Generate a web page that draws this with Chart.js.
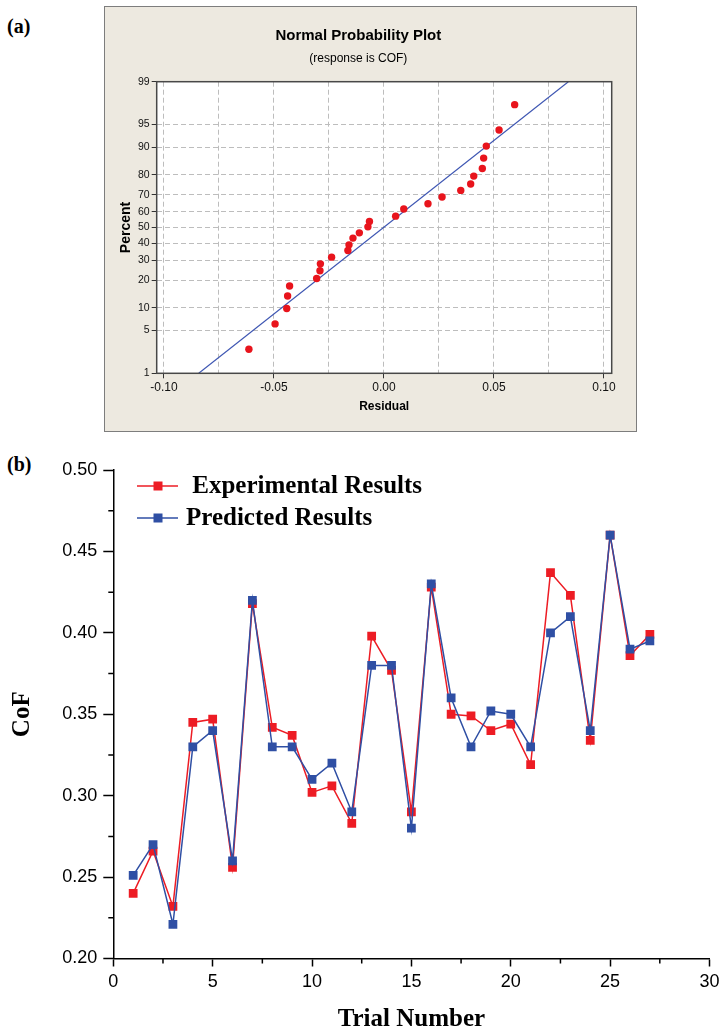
<!DOCTYPE html>
<html><head><meta charset="utf-8">
<script src="https://cdn.jsdelivr.net/npm/chart.js@4.4.1/dist/chart.umd.min.js"></script>
<style>
html,body{margin:0;padding:0;background:#fff;overflow:hidden;width:724px;height:1033px;}
.lbl{position:absolute;font-family:"Liberation Serif","Times New Roman",serif;font-weight:bold;font-size:20px;line-height:20px;color:#000;}
#panelA{position:absolute;left:104px;top:6px;width:531px;height:424px;border:1px solid #7d7d7d;background:#EDE9E0;}
#chartA{position:absolute;left:0;top:0;}
#chartB{position:absolute;left:0;top:440px;}
</style></head><body>
<div class="lbl" style="left:7px;top:16px">(a)</div>
<div class="lbl" style="left:7px;top:454px">(b)</div>
<div id="panelA"><canvas id="chartA" width="531" height="424"></canvas></div>
<canvas id="chartB" width="724" height="600"></canvas>
<script>
// ---- (a) Normal probability plot data ----
const residuals = [-0.0614,-0.0495,-0.0442,-0.0438,-0.0429,-0.0306,-0.0291,-0.0289,-0.0238,-0.0164,-0.0159,-0.0141,-0.0112,-0.0073,-0.0066,0.0053,0.0090,0.0200,0.0264,0.0349,0.0394,0.0408,0.0447,0.0453,0.0465,0.0523,0.0594];
const percents = [2.6,6.2,9.8,13.7,17.5,20.8,24.5,28.1,31.8,35.7,39.1,43.3,46.6,50.4,53.8,57.2,61.6,64.8,68.7,72.3,75.6,79.4,82.7,86.6,90.3,94.0,97.5];
const fitResidual = [-0.0842, 0.0838];
const fitPercent = [1, 99];
const residualTicks = [-0.10,-0.075,-0.05,-0.025,0,0.025,0.05,0.075,0.10];
const percentTicks = [1,5,10,20,30,40,50,60,70,80,90,95,99];

// ---- (b) CoF data ----
const trials = [1,2,3,4,5,6,7,8,9,10,11,12,13,14,15,16,17,18,19,20,21,22,23,24,25,26,27];
const experimental = [0.240,0.266,0.232,0.345,0.347,0.256,0.418,0.342,0.337,0.302,0.306,0.283,0.398,0.377,0.290,0.428,0.350,0.349,0.340,0.344,0.319,0.437,0.423,0.334,0.460,0.386,0.399];
const predicted = [0.251,0.270,0.221,0.330,0.340,0.260,0.420,0.330,0.330,0.310,0.320,0.290,0.380,0.380,0.280,0.430,0.360,0.330,0.352,0.350,0.330,0.400,0.410,0.340,0.460,0.390,0.395];
const seriesLabels = [' Experimental Results', 'Predicted Results'];

// inverse standard normal CDF (probability-axis transform)
function probit(p){
  const a=[-3.969683028665376e+01,2.209460984245205e+02,-2.759285104469687e+02,1.383577518672690e+02,-3.066479806614716e+01,2.506628277459239e+00];
  const b=[-5.447609879822406e+01,1.615858368580409e+02,-1.556989798598866e+02,6.680131188771972e+01,-1.328068155288572e+01];
  const c=[-7.784894002430293e-03,-3.223964580411365e-01,-2.400758277161838e+00,-2.549671010229528e+00,4.374664141464968e+00,2.938163982698783e+00];
  const d=[7.784695709041462e-03,3.224671290700398e-01,2.445134137142996e+00,3.754408661907416e+00];
  const pl=0.02425, ph=1-pl; let q,r;
  if(p<pl){q=Math.sqrt(-2*Math.log(p));return (((((c[0]*q+c[1])*q+c[2])*q+c[3])*q+c[4])*q+c[5])/((((d[0]*q+d[1])*q+d[2])*q+d[3])*q+1);}
  if(p<=ph){q=p-0.5;r=q*q;return (((((a[0]*r+a[1])*r+a[2])*r+a[3])*r+a[4])*r+a[5])*q/(((((b[0]*r+b[1])*r+b[2])*r+b[3])*r+b[4])*r+1);}
  q=Math.sqrt(-2*Math.log(1-p));return -(((((c[0]*q+c[1])*q+c[2])*q+c[3])*q+c[4])*q+c[5])/((((d[0]*q+d[1])*q+d[2])*q+d[3])*q+1);
}

const SANS = '"Liberation Sans", Arial, sans-serif';
const SERIF = '"Liberation Serif", "Times New Roman", serif';
const isMajor = v => Math.abs(Math.round(v/0.05)*0.05 - v) < 1e-9;

const plotFrame = {
  id:'plotFrame',
  beforeDraw(chart){
    const {ctx, chartArea:a} = chart;
    ctx.save(); ctx.fillStyle='#ffffff';
    ctx.fillRect(a.left, a.top, a.right-a.left, a.bottom-a.top); ctx.restore();
  },
  afterDraw(chart){
    const {ctx, chartArea:a} = chart;
    ctx.save(); ctx.strokeStyle='#484848'; ctx.lineWidth=1.5;
    ctx.strokeRect(a.left, a.top, a.right-a.left, a.bottom-a.top); ctx.restore();
  }
};

new Chart(document.getElementById('chartA'), {
  type:'scatter',
  data:{datasets:[
    {label:'Residual', data: residuals.map((r,i)=>({x:r, y:probit(percents[i]/100)})),
     backgroundColor:'#E8141C', borderColor:'#E8141C', pointRadius:3.7, pointHoverRadius:3.7, pointBorderWidth:0, order:1},
    {label:'Fit', type:'line', data: fitResidual.map((r,i)=>({x:r, y:probit(fitPercent[i]/100)})),
     borderColor:'#3D55B2', borderWidth:1.1, pointRadius:0, fill:false, order:2}
  ]},
  options:{
    responsive:false, animation:false, events:[],
    layout:{padding:{left:0,right:24.3,top:0,bottom:0}},
    plugins:{
      legend:{display:false}, tooltip:{enabled:false},
      title:{display:true, text:'Normal Probability Plot', color:'#000', font:{family:SANS,size:15,weight:'bold'}, padding:{top:20,bottom:0}},
      subtitle:{display:true, text:'(response is COF)', color:'#000', font:{family:SANS,size:12}, padding:{top:6,bottom:16.3}}
    },
    scales:{
      x:{type:'linear', min:-0.1033, max:0.1035,
        afterBuildTicks(s){ s.ticks = residualTicks.map(v=>({value:v})); },
        afterFit(s){ s.height = 57.7; },
        ticks:{autoSkip:false, maxRotation:0, minRotation:0, padding:2.5, color:'#111', font:{family:SANS,size:12},
          callback:(v)=> isMajor(v) ? v.toFixed(2) : ''},
        grid:{color:'#BDBDBD', lineWidth:1, tickLength:5, tickWidth:1, tickColor:(ctx)=> isMajor(ctx.tick.value) ? '#333' : 'rgba(0,0,0,0)'},
        border:{display:false, dash:[5,3]},
        title:{display:true, text:'Residual', color:'#000', font:{family:SANS,size:12,weight:'bold'}, padding:{top:0,bottom:16.8}}
      },
      y:{type:'linear', min:probit(0.01), max:probit(0.99),
        afterBuildTicks(s){ s.ticks = percentTicks.map(p=>({value:probit(p/100)})); },
        afterFit(s){ s.width = 51.7; },
        ticks:{autoSkip:false, padding:2, color:'#111', font:{family:SANS,size:10.5},
          callback:(v,i)=> String(percentTicks[i])},
        grid:{color:'#BDBDBD', lineWidth:1, tickLength:5, tickWidth:1, tickColor:'#333'},
        border:{display:false, dash:[5,3]},
        title:{display:true, text:'Percent', color:'#000', font:{family:SANS,size:14,weight:'bold'}, padding:{top:12.6,bottom:0}}
      }
    }
  },
  plugins:[plotFrame]
});

const RED = '#ED1C24';
const BLUE = '#2F4FA4';

const minorTicks = {
  id:'minorTicks',
  afterDraw(chart){
    const {ctx, chartArea:a, scales:{x,y}} = chart;
    ctx.save(); ctx.strokeStyle='#000'; ctx.lineWidth=1.5; ctx.beginPath();
    for(let i=0;i<y.ticks.length-1;i++){
      const py = y.getPixelForValue((y.ticks[i].value+y.ticks[i+1].value)/2);
      ctx.moveTo(a.left-5, py); ctx.lineTo(a.left, py);
    }
    for(let i=0;i<x.ticks.length-1;i++){
      const px = x.getPixelForValue((x.ticks[i].value+x.ticks[i+1].value)/2);
      ctx.moveTo(px, a.bottom); ctx.lineTo(px, a.bottom+5);
    }
    ctx.stroke(); ctx.restore();
  }
};

const lineLegend = {
  id:'lineLegend',
  afterDraw(chart){
    const ctx = chart.ctx;
    ctx.save();
    ctx.font = 'bold 25px ' + SERIF; ctx.textBaseline='middle'; ctx.textAlign='left';
    chart.data.datasets.forEach((ds,i)=>{
      const yy = 46 + i*32;
      ctx.strokeStyle = ds.borderColor; ctx.lineWidth = 1.5;
      ctx.beginPath(); ctx.moveTo(137,yy); ctx.lineTo(178,yy); ctx.stroke();
      ctx.fillStyle = ds.backgroundColor; ctx.fillRect(153.5, yy-4.5, 9, 9);
      ctx.fillStyle = '#000'; ctx.fillText(ds.label, 186, yy+1);
    });
    ctx.restore();
  }
};

new Chart(document.getElementById('chartB'), {
  type:'scatter',
  data:{datasets:[
    {label:seriesLabels[0], data: trials.map((t,i)=>({x:t, y:experimental[i]})), showLine:true,
     borderColor:RED, backgroundColor:RED, borderWidth:1.5, pointStyle:'rect', pointRadius:6.2, pointHoverRadius:6.2, pointBorderWidth:0, order:2},
    {label:seriesLabels[1], data: trials.map((t,i)=>({x:t, y:predicted[i]})), showLine:true,
     borderColor:BLUE, backgroundColor:BLUE, borderWidth:1.5, pointStyle:'rect', pointRadius:6.2, pointHoverRadius:6.2, pointBorderWidth:0, order:1}
  ]},
  options:{
    responsive:false, animation:false, events:[],
    layout:{padding:{left:0,right:11,top:30,bottom:0}},
    plugins:{legend:{display:false}, tooltip:{enabled:false}},
    scales:{
      x:{type:'linear', min:0, max:30,
        afterFit(s){ s.height = 81.5; },
        ticks:{stepSize:5, autoSkip:false, maxRotation:0, minRotation:0, padding:4.5, color:'#000', font:{family:SANS,size:18}},
        grid:{drawOnChartArea:false, tickLength:8, tickColor:'#000', tickWidth:1.5},
        border:{color:'#000', width:1.5},
        title:{display:true, text:'Trial Number', color:'#000', font:{family:SERIF,size:25,weight:'bold'}, padding:{top:0,bottom:5}}
      },
      y:{type:'linear', min:0.2, max:0.5,
        afterFit(s){ s.width = 113.3; },
        ticks:{stepSize:0.05, autoSkip:false, padding:6, color:'#000', font:{family:SANS,size:18}, callback:(v)=>Number(v).toFixed(2)},
        grid:{drawOnChartArea:false, tickLength:10, tickColor:'#000', tickWidth:1.5},
        border:{color:'#000', width:1.5},
        title:{display:true, text:'CoF', color:'#000', font:{family:SERIF,size:25,weight:'bold'}, padding:{top:8,bottom:0}}
      }
    }
  },
  plugins:[minorTicks, lineLegend]
});
</script>
</body></html>
